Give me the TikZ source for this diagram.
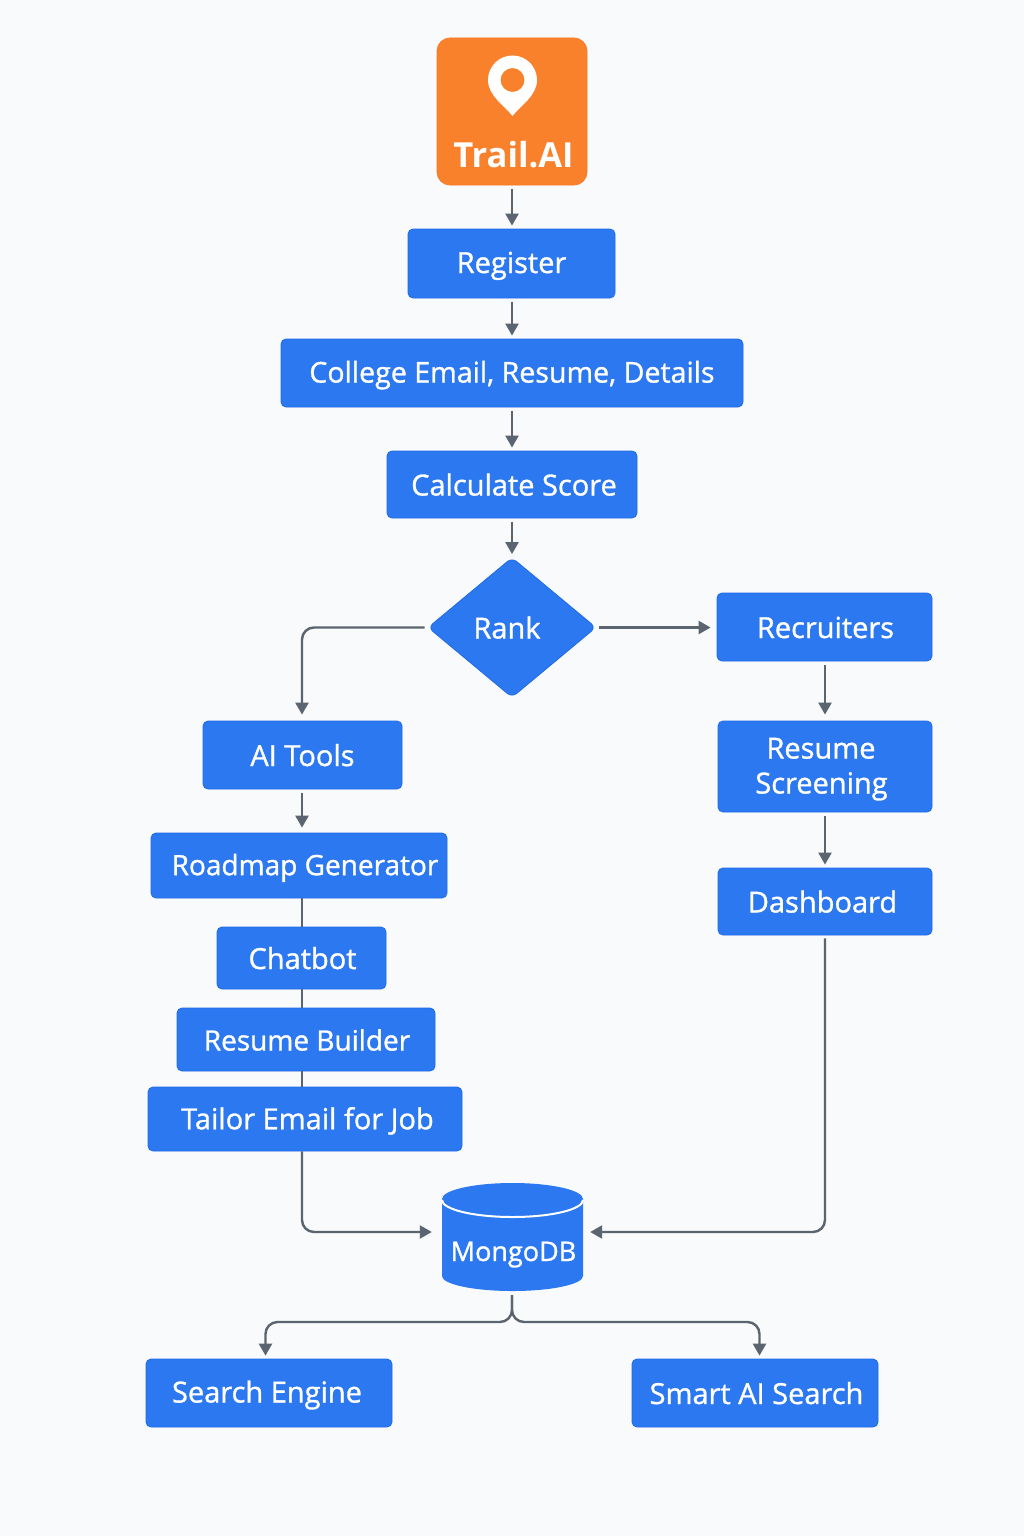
\documentclass[tikz,border=0pt]{standalone}
\usepackage{fontspec}
\setmainfont{Open Sans}
\newfontfamily\medf[FakeBold=1.1]{Open Sans}
\usetikzlibrary{arrows.meta,shapes.geometric}
\definecolor{bg}{HTML}{F8FAFB}
\definecolor{blu}{HTML}{2B78F0}
\definecolor{blud}{HTML}{1F6AE8}
\definecolor{org}{HTML}{F9812B}
\definecolor{lin}{HTML}{5A6570}
\newcommand{\sz}[1]{\fontsize{#1}{35}\selectfont}
\newcommand{\st}{\rule[-4pt]{0pt}{30pt}}
\tikzset{
 x=1pt,y=-1pt,
 boxn/.style={draw=blud,line width=0.8pt,fill=blu,rounded corners=5pt,text=white,align=center,font=\medf\sz{29},inner sep=0pt},
 arr/.style={draw=lin,line width=2.4pt,-{Triangle[length=12pt,width=13pt]},shorten <=3.5pt,shorten >=3pt},
 plain/.style={draw=lin,line width=2.4pt},
 elbow/.style={draw=lin,line width=2.4pt,rounded corners=12pt,-{Triangle[length=12pt,width=13pt]}},
}
\newcommand{\bx}[6]{\node[boxn,minimum width=#4 pt-#2 pt,minimum height=#5 pt-#3 pt] (#1) at ({(#2+#4)/2},{(#3+#5)/2}) {#6};}
\begin{document}
\begin{tikzpicture}
\useasboundingbox (0,0) rectangle (1024,1536);
\fill[bg] (0,0) rectangle (1024,1536);
% logo
\node[draw=org!95!red,line width=0.8pt,fill=org,rounded corners=13pt,minimum width=150pt,minimum height=147pt,inner sep=0pt] (logo) at (512,111.5) {};
\fill[white,even odd rule] (512.5,116) .. controls (505,106) and (488,96) .. (488,80) arc[start angle=180,end angle=360,radius=24.5] .. controls (537,96) and (520,106) .. (512.5,116) -- cycle (524.5,80) arc[start angle=0,end angle=360,radius=12];
\node[text=white,inner sep=0pt,anchor=base,font=\bfseries\fontsize{34.5}{40}\selectfont] (logot) at (513.5,167) {Trail.AI};
\bx{register}{408}{229}{615}{298}{\st Register}
\bx{college}{281}{339}{743}{407}{\sz{28.6}\st College Email, Resume, Details}
\bx{calc}{387}{451}{637}{518}{\hspace*{4pt}\st Calculate Score}
\node[diamond,fill=blu,draw=blud,line width=0.8pt,rounded corners=6pt,inner sep=0pt,minimum width=168pt,minimum height=140pt,text=white,font=\medf\sz{29}] (rank) at (512,627.5) {\hspace*{-10pt}\raisebox{1pt}{\st Rank}};
\bx{recr}{717}{593}{932}{661}{\hspace*{2pt}\st Recruiters}
\bx{screen}{718}{721}{932}{812}{\hspace*{-8pt}\st Resume\\\hspace*{-7pt}\st Screening}
\bx{dash}{718}{868}{932}{935}{\hspace*{-5pt}\st Dashboard}
\bx{ait}{203}{721}{402}{789}{\raisebox{1pt}{\st AI Tools}}
\bx{road}{151}{833}{447}{898}{\sz{28}\hspace*{12pt}\st Roadmap Generator}
\bx{chat}{217}{927}{386}{989}{\hspace*{2pt}\st Chatbot}
\bx{build}{177}{1008}{435}{1071}{\sz{28}\hspace*{2pt}\st Resume Builder}
\bx{tailor}{148}{1087}{462}{1151}{\hspace*{5pt}\st Tailor Email for Job}
\bx{search}{146}{1359}{392}{1427}{\hspace*{-4pt}\st Search Engine}
\bx{smart}{632}{1359}{878}{1427}{\hspace*{3pt}\st Smart AI Search}
% cylinder
\fill[blu] (442,1199) -- (442,1276) arc[start angle=180,end angle=0,x radius=70.5,y radius=15] -- (583,1199) arc[start angle=0,end angle=-180,x radius=70.5,y radius=16] -- cycle;
\draw[white,line width=2pt] (442,1200) arc[start angle=180,end angle=0,x radius=70.5,y radius=17];
\node[inner sep=0pt,minimum width=141pt,minimum height=108pt] (mongo) at (512.5,1237) {};
\node[text=white,inner sep=0pt,anchor=base,font=\medf\fontsize{27}{32}\selectfont] (mongot) at (513.5,1261) {MongoDB};
% helper coordinates
\coordinate (lx) at (302,0);
\coordinate (mr) at (825,0);
\coordinate (row) at (0,1232);
\coordinate (sx) at (265.5,0);
\coordinate (ax) at (759.5,0);
\coordinate (cx) at (512,0);
\coordinate (spl) at (512,1322);
% connectors
\draw[arr] (cx |- logo.south) -- (cx |- register.north);
\draw[arr] (cx |- register.south) -- (cx |- college.north);
\draw[arr] (cx |- college.south) -- (cx |- calc.north);
\draw[arr] (cx |- calc.south) -- (cx |- rank.north);
\draw[elbow,shorten <=3pt,shorten >=6pt] (rank.west) -| (lx |- ait.north);
\draw[arr,shorten <=3pt,shorten >=6pt] (rank.east) -- (rank.east -| recr.west);
\draw[arr,shorten >=6pt] (mr |- recr.south) -- (mr |- screen.north);
\draw[arr] (mr |- screen.south) -- (mr |- dash.north);
\draw[arr,shorten >=5pt] (lx |- ait.south) -- (lx |- road.north);
\draw[plain] (lx |- road.south) -- (lx |- chat.north);
\draw[plain] (lx |- chat.south) -- (lx |- build.north);
\draw[plain] (lx |- build.south) -- (lx |- tailor.north);
\draw[elbow,shorten >=10pt] (lx |- tailor.south) |- (row -| mongo.west);
\draw[elbow,shorten <=3pt,shorten >=-1pt] (mr |- dash.south) |- ([xshift=8pt]row -| mongo.east);
\draw[elbow,shorten <=4pt,shorten >=3pt] (spl |- mongo.south) -- (spl) -| (sx |- search.north);
\draw[elbow,shorten <=4pt,shorten >=3pt] (spl |- mongo.south) -- (spl) -| (ax |- smart.north);
\end{tikzpicture}
\end{document}
